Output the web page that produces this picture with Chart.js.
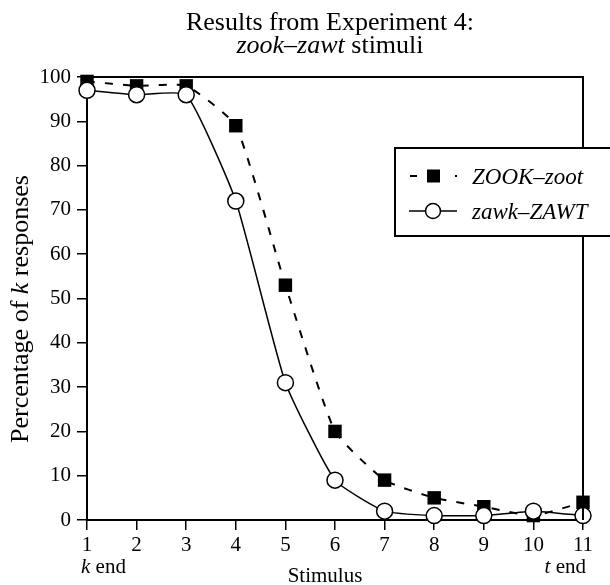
<!DOCTYPE html>
<html>
<head>
<meta charset="utf-8">
<script src="https://cdn.jsdelivr.net/npm/chart.js@4.4.1/dist/chart.umd.min.js"></script>
<style>
  html, body { margin: 0; padding: 0; background: #fff; }
  #wrap { width: 610px; height: 585px; }
</style>
</head>
<body>
<div id="wrap"><canvas id="chart" width="610" height="585"></canvas></div>
<script>
// Data
const stimuli = [1, 2, 3, 4, 5, 6, 7, 8, 9, 10, 11];
const zookZoot = [99, 98, 98, 89, 53, 20, 9, 5, 3, 1, 4];
const zawkZawt = [97, 96, 96, 72, 31, 9, 2, 1, 1, 2, 1];
const yTicks = [0, 10, 20, 30, 40, 50, 60, 70, 80, 90, 100];

const SERIF = '"Liberation Serif", "Times New Roman", serif';

// draw a line of text made of [text, italic] pieces
function drawMixed(ctx, parts, x, y, size, align) {
  let total = 0;
  parts.forEach(p => {
    ctx.font = (p[1] ? 'italic ' : '') + size + 'px ' + SERIF;
    total += ctx.measureText(p[0]).width;
  });
  let cx = align === 'left' ? x : align === 'right' ? x - total : x - total / 2;
  ctx.textAlign = 'left';
  parts.forEach(p => {
    ctx.font = (p[1] ? 'italic ' : '') + size + 'px ' + SERIF;
    ctx.fillText(p[0], cx, y);
    cx += ctx.measureText(p[0]).width;
  });
}

// Extra text, frame and legend
const decorations = {
  id: 'decorations',
  afterDatasetsDraw(chart) {
    const { ctx, chartArea: a, scales } = chart;
    ctx.save();
    ctx.fillStyle = '#000';
    ctx.textBaseline = 'alphabetic';

    // frame (top + right)
    ctx.strokeStyle = '#000';
    ctx.lineWidth = 2;
    ctx.beginPath();
    ctx.moveTo(a.left, a.top);
    ctx.lineTo(a.right, a.top);
    ctx.lineTo(a.right, a.bottom);
    ctx.stroke();

    // title
    drawMixed(ctx, [['Results from Experiment 4:', false]], 330, 30, 26);
    drawMixed(ctx, [['zook–zawt', true], [' stimuli', false]], 330, 53, 26);

    // y axis title
    ctx.save();
    ctx.translate(28, 309);
    ctx.rotate(-Math.PI / 2);
    drawMixed(ctx, [['Percentage of ', false], ['k', true], [' responses', false]], 0, 0, 26);
    ctx.restore();

    // x axis labels
    const x1 = scales.x.getPixelForValue(stimuli[0]);
    const x11 = scales.x.getPixelForValue(stimuli[stimuli.length - 1]);
    drawMixed(ctx, [['k', true], [' end', false]], x1 - 6, 573, 21, 'left');
    drawMixed(ctx, [['t', true], [' end', false]], x11 + 3, 573, 21, 'right');
    drawMixed(ctx, [['Stimulus', false]], 325, 582, 21);

    // legend
    const lx = 395, ly = 148, lw = 220, lh = 88;
    ctx.fillStyle = '#fff';
    ctx.fillRect(lx, ly, lw, lh);
    ctx.lineWidth = 2;
    ctx.strokeRect(lx, ly, lw, lh);

    ctx.fillStyle = '#000';
    ctx.lineWidth = 1.8;
    // dashed sample with square
    let y = 176;
    ctx.beginPath();
    ctx.moveTo(410, y); ctx.lineTo(417, y);
    ctx.moveTo(455, y); ctx.lineTo(457, y);
    ctx.stroke();
    ctx.fillRect(427, y - 6.5, 13, 13);
    drawMixed(ctx, [['ZOOK–zoot', true]], 472, y + 8, 23, 'left');

    // solid sample with circle
    y = 211;
    ctx.lineWidth = 1.5;
    ctx.beginPath();
    ctx.moveTo(409, y); ctx.lineTo(457, y);
    ctx.stroke();
    ctx.beginPath();
    ctx.arc(433, y, 7.5, 0, Math.PI * 2);
    ctx.fillStyle = '#fff';
    ctx.fill();
    ctx.stroke();
    ctx.fillStyle = '#000';
    drawMixed(ctx, [['zawk–ZAWT', true]], 472, y + 8, 23, 'left');

    ctx.restore();
  }
};

const tickFont = { family: SERIF, size: 21 };

new Chart(document.getElementById('chart'), {
  type: 'line',
  data: {
    datasets: [
      {
        label: 'ZOOK–zoot',
        data: stimuli.map((s, i) => ({ x: s, y: zookZoot[i] })),
        borderColor: '#000',
        borderWidth: 2,
        borderDash: [8, 10],
        pointStyle: 'rect',
        pointRadius: 9.5,
        pointBackgroundColor: '#000',
        pointBorderColor: '#000',
        pointBorderWidth: 0,
        tension: 0.15,
        order: 1
      },
      {
        label: 'zawk–ZAWT',
        data: stimuli.map((s, i) => ({ x: s, y: zawkZawt[i] })),
        borderColor: '#000',
        borderWidth: 1.5,
        pointStyle: 'circle',
        pointRadius: 8,
        pointBackgroundColor: '#fff',
        pointBorderColor: '#000',
        pointBorderWidth: 1.5,
        tension: 0.15,
        order: 0
      }
    ]
  },
  options: {
    responsive: false,
    animation: false,
    clip: false,
    layout: { padding: { top: 77, right: 27, bottom: 0, left: 0 } },
    plugins: {
      legend: { display: false },
      title: { display: false },
      tooltip: { enabled: false }
    },
    scales: {
      x: {
        type: 'linear',
        min: 1,
        max: 11,
        afterFit(scale) { scale.height = 65; },
        afterBuildTicks(scale) { scale.ticks = stimuli.map(v => ({ value: v })); },
        grid: { drawOnChartArea: false, drawTicks: true, tickLength: 10, color: '#000', lineWidth: 1.5 },
        border: { display: true, color: '#000', width: 2 },
        ticks: { color: '#000', font: tickFont, padding: 3, maxRotation: 0, autoSkip: false }
      },
      y: {
        min: 0,
        max: 100,
        afterFit(scale) { scale.width = 87; },
        afterBuildTicks(scale) { scale.ticks = yTicks.map(v => ({ value: v })); },
        grid: { drawOnChartArea: false, drawTicks: true, tickLength: 10, color: '#000', lineWidth: 1.5 },
        border: { display: true, color: '#000', width: 2 },
        ticks: { color: '#000', font: tickFont, padding: 6 }
      }
    }
  },
  plugins: [decorations]
});
</script>
</body>
</html>
